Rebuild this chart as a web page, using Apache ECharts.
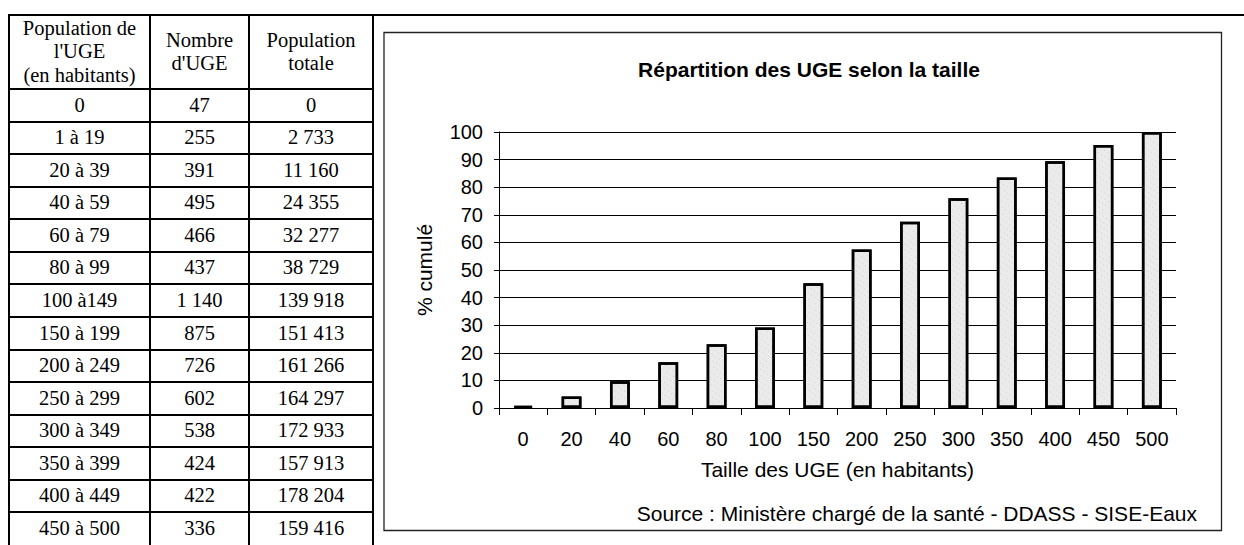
<!DOCTYPE html>
<html>
<head>
<meta charset="utf-8">
<script src="https://cdn.jsdelivr.net/npm/echarts@6/dist/echarts.min.js"></script>
<style>
  html, body { margin: 0; padding: 0; background: #fff; }
  #wrap { position: relative; width: 1244px; height: 545px; overflow: hidden; }
  #chart { position: absolute; left: 0; top: 0; width: 1244px; height: 545px; }
  #table { position: absolute; left: 0; top: 0; width: 380px; height: 545px; z-index: 2;
           font-family: "Liberation Serif", "Times New Roman", serif; font-size: 20.5px; color: #000; }
  .cell { position: absolute; display: flex; align-items: center; justify-content: center; text-align: center; line-height: 23.5px; white-space: nowrap; }
  .hl { position: absolute; background: #000; }
  .vl { position: absolute; background: #000; }
  #rule { position: absolute; left: 9px; top: 14px; width: 1235px; height: 2px; background: #000; z-index: 3; }
</style>
</head>
<body>
<div id="wrap">
  <div id="chart"></div>
  <div id="table"></div>
  <div id="rule"></div>
</div>
<script>
// ---- Data ----
const headerLabels = ["Population de<br>l'UGE<br>(en habitants)", "Nombre<br>d'UGE", "Population<br>totale"];
const sizeClasses = ["0", "1 à 19", "20 à 39", "40 à 59", "60 à 79", "80 à 99", "100 à149", "150 à 199", "200 à 249", "250 à 299", "300 à 349", "350 à 399", "400 à 449", "450 à 500"];
const ugeCounts = [47, 255, 391, 495, 466, 437, 1140, 875, 726, 602, 538, 424, 422, 336];
const populations = [0, 2733, 11160, 24355, 32277, 38729, 139918, 151413, 161266, 164297, 172933, 157913, 178204, 159416];

const sizeTicks = ["0", "20", "40", "60", "80", "100", "150", "200", "250", "300", "350", "400", "450", "500"];
const cumulPct = [0.7, 4.2, 9.7, 16.6, 23.1, 29.2, 45.2, 57.4, 67.5, 76.0, 83.5, 89.4, 95.3, 100];
const yTicks = { min: 0, max: 100, interval: 10 };

const chartTitle = "Répartition des UGE selon la taille";
const yName = "% cumulé";
const xName = "Taille des UGE (en habitants)";
const sourceText = "Source : Ministère chargé de la santé - DDASS - SISE-Eaux";

// ---- Table (HTML) ----
function fmt(n) { return String(n).replace(/\B(?=(\d{3})+(?!\d))/g, " "); }
(function buildTable() {
  const t = document.getElementById('table');
  const colX = [9, 150, 249, 373];
  const top = 14, headBottom = 89, bottom = 545;
  const nRows = sizeClasses.length;
  const rowH = (bottom - headBottom) / nRows;
  function cell(x0, x1, y0, y1, html) {
    const d = document.createElement('div');
    d.className = 'cell';
    d.style.left = x0 + 'px'; d.style.top = y0 + 'px';
    d.style.width = (x1 - x0) + 'px'; d.style.height = (y1 - y0) + 'px';
    d.innerHTML = html;
    t.appendChild(d);
  }
  for (let c = 0; c < 3; c++) cell(colX[c], colX[c + 1], top + 1, headBottom, headerLabels[c]);
  for (let r = 0; r < nRows; r++) {
    const y0 = headBottom + r * rowH, y1 = y0 + rowH;
    const vals = [sizeClasses[r], fmt(ugeCounts[r]), fmt(populations[r])];
    for (let c = 0; c < 3; c++) cell(colX[c], colX[c + 1], y0, y1, vals[c]);
  }
  for (let c = 0; c < colX.length; c++) {
    const v = document.createElement('div'); v.className = 'vl';
    v.style.left = (colX[c] - 1) + 'px'; v.style.top = top + 'px';
    v.style.width = '2px'; v.style.height = (bottom - top) + 'px';
    t.appendChild(v);
  }
  for (let r = 0; r < nRows; r++) {
    const y = headBottom + r * rowH;
    const h = document.createElement('div'); h.className = 'hl';
    h.style.left = (colX[0] - 1) + 'px'; h.style.top = (Math.round(y) - 1) + 'px';
    h.style.width = (colX[3] - colX[0] + 2) + 'px'; h.style.height = '2px';
    t.appendChild(h);
  }
})();

// ---- Chart ----
const chart = echarts.init(document.getElementById('chart'), null, { renderer: 'svg' });
const FONT = '"Liberation Sans", Arial, sans-serif';
chart.setOption({
  animation: false,
  backgroundColor: '#fff',
  grid: { left: 499, right: 68, top: 132, bottom: 137, containLabel: false },
  xAxis: {
    type: 'category',
    data: sizeTicks,
    boundaryGap: true,
    name: xName,
    nameLocation: 'middle',
    nameGap: 51,
    nameTextStyle: { fontFamily: FONT, fontSize: 21, color: '#000' },
    axisLine: { show: true, lineStyle: { color: '#000', width: 1 } },
    axisTick: { show: true, length: 7, interval: 0, lineStyle: { color: '#000' } },
    axisLabel: { interval: 0, margin: 21, fontFamily: FONT, fontSize: 20, color: '#000' },
    splitLine: { show: false }
  },
  yAxis: {
    type: 'value',
    min: yTicks.min, max: yTicks.max, interval: yTicks.interval,
    name: yName,
    nameLocation: 'middle',
    nameGap: 64,
    nameRotate: 90,
    nameTextStyle: { fontFamily: FONT, fontSize: 21, color: '#000' },
    axisLine: { show: true, lineStyle: { color: '#000', width: 1 } },
    axisTick: { show: true, length: 5, lineStyle: { color: '#000' } },
    axisLabel: { margin: 16, fontFamily: FONT, fontSize: 20, color: '#000' },
    splitLine: { show: true, lineStyle: { color: '#000', width: 1 } }
  },
  series: [{
    type: 'bar',
    data: cumulPct,
    barWidth: '41%',
    itemStyle: {
      color: '#ebebeb',
      borderColor: '#000',
      borderWidth: 2.5,
      decal: {
        symbol: 'rect', symbolSize: 1,
        dashArrayX: [1, 3], dashArrayY: [1, 4], rotation: 0.6,
        color: 'rgba(150,150,150,0.3)'
      }
    }
  }],
  graphic: [
    { type: 'rect', z: -1, shape: { x: 384, y: 32.5, width: 837.5, height: 498 },
      style: { fill: 'none', stroke: '#222', lineWidth: 1.3 } },
    { type: 'text', x: 809, y: 69,
      style: { text: chartTitle, font: 'bold 21px ' + FONT, fill: '#000', align: 'center', verticalAlign: 'middle' } },
    { type: 'text', x: 1197, y: 513,
      style: { text: sourceText, font: '21px ' + FONT, fill: '#000', align: 'right', verticalAlign: 'middle' } }
  ]
});
</script>
</body>
</html>
